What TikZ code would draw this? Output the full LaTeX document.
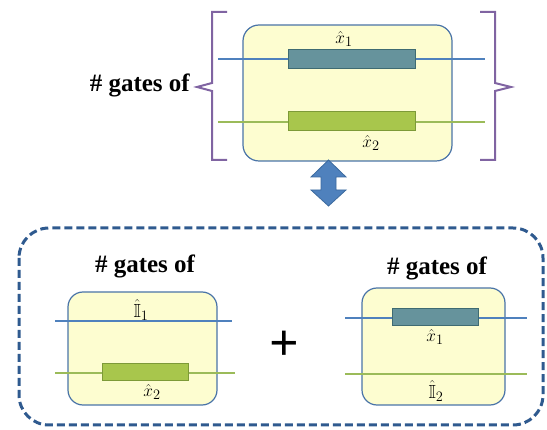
\documentclass[tikz,border=0pt]{standalone}
\usepackage{amsmath,amssymb}
\usepackage{fontspec}
\setmainfont{Liberation Serif}
\usetikzlibrary{positioning}

\definecolor{boxfill}{HTML}{FDFDD0}
\definecolor{boxline}{HTML}{4A74A8}
\definecolor{bluewire}{HTML}{4F81BD}
\definecolor{greenwire}{HTML}{9BBB59}
\definecolor{blueop}{HTML}{66939C}
\definecolor{blueopline}{HTML}{3F6B72}
\definecolor{greenop}{HTML}{A8C64C}
\definecolor{greenopline}{HTML}{7D9A38}
\definecolor{brackline}{HTML}{8064A2}
\definecolor{arrowline}{HTML}{3C6A9E}
\definecolor{dashline}{HTML}{2F5A8F}

\tikzset{
  gatebox/.style={draw=boxline, fill=boxfill, line width=1.2pt, rounded corners=16pt},
  bwire/.style={draw=bluewire, line width=2.4pt},
  gwire/.style={draw=greenwire, line width=2.4pt},
  bop/.style={draw=blueopline, fill=blueop, line width=1pt, inner sep=0pt},
  gop/.style={draw=greenopline, fill=greenop, line width=1pt, inner sep=0pt},
  oplabel/.style={inner sep=0pt, font=\fontsize{19}{21}\selectfont},
  title/.style={inner sep=0pt, font=\fontsize{25}{28}\selectfont\bfseries},
}

\begin{document}
\begin{tikzpicture}[x=1pt,y=-1pt]
  \useasboundingbox (0,0) rectangle (547,430);

  % top: the two-qubit gate
  \node[gatebox, minimum width=209, minimum height=136] (topbox) at (347.5,93) {};
  \draw[bwire] (218,59) -- (485,59);
  \draw[gwire] (218,122) -- (485,122);
  \node[bop, minimum width=127, minimum height=19] (x1) at (351.5,59.5) {};
  \node[gop, minimum width=127, minimum height=19] (x2) at (351.5,121.5) {};
  \node[oplabel] (x1lab) at (344,39) {$\hat{x}_1$};
  \node[oplabel] (x2lab) at (371,143) {$\hat{x}_2$};

  % brackets round it
  \draw[brackline, line width=2pt]
    (227,12) -- (212,12) -- (212,83) -- (197,87) -- (212,91) -- (212,160) -- (227,160);
  \draw[brackline, line width=2pt]
    (480,12) -- (495,12) -- (495,83) -- (511,87) -- (495,91) -- (495,160) -- (480,160);
  \node[title, anchor=east] (toptitle) at (190,85) {\# gates of};

  % two-headed arrow
  \draw[arrowline, fill=bluewire, line width=0.8pt]
    (328.5,160) -- (346,177) -- (336,177) -- (336,190) -- (346,190) -- (328.5,206)
    -- (311,190) -- (321,190) -- (321,177) -- (311,177) -- cycle;

  % dashed frame
  \draw[dashline, line width=3pt, dash pattern=on 8pt off 4pt, rounded corners=30pt]
    (19,228) rectangle (543,425);

  % left: identity on qubit 1
  \node[title] (lefttitle) at (145,266) {\# gates of};
  \node[gatebox, minimum width=149, minimum height=113, rounded corners=15pt] (leftbox) at (142.5,348.5) {};
  \draw[bwire] (55,321) -- (232,321);
  \draw[gwire] (55,373) -- (235,373);
  \node[gop, minimum width=86, minimum height=17] (lx2) at (145,372.5) {};
  \node[oplabel] (lid1) at (141,310) {$\hat{\mathbb{I}}_1$};
  \node[oplabel] (lx2lab) at (152,392) {$\hat{x}_2$};

  \node[font=\fontsize{52}{52}\selectfont\bfseries, inner sep=0pt] (plus) at (284,346) {+};

  % right: identity on qubit 2
  \node[title] (righttitle) at (437,268) {\# gates of};
  \node[gatebox, minimum width=143, minimum height=117, rounded corners=15pt] (rightbox) at (433.5,346.5) {};
  \draw[bwire] (345,318) -- (527,318);
  \draw[gwire] (345,374) -- (527,374);
  \node[bop, minimum width=86, minimum height=17] (rx1) at (435,317.5) {};
  \node[oplabel] (rx1lab) at (435,337) {$\hat{x}_1$};
  \node[oplabel] (rid2) at (436,391) {$\hat{\mathbb{I}}_2$};
\end{tikzpicture}
\end{document}
